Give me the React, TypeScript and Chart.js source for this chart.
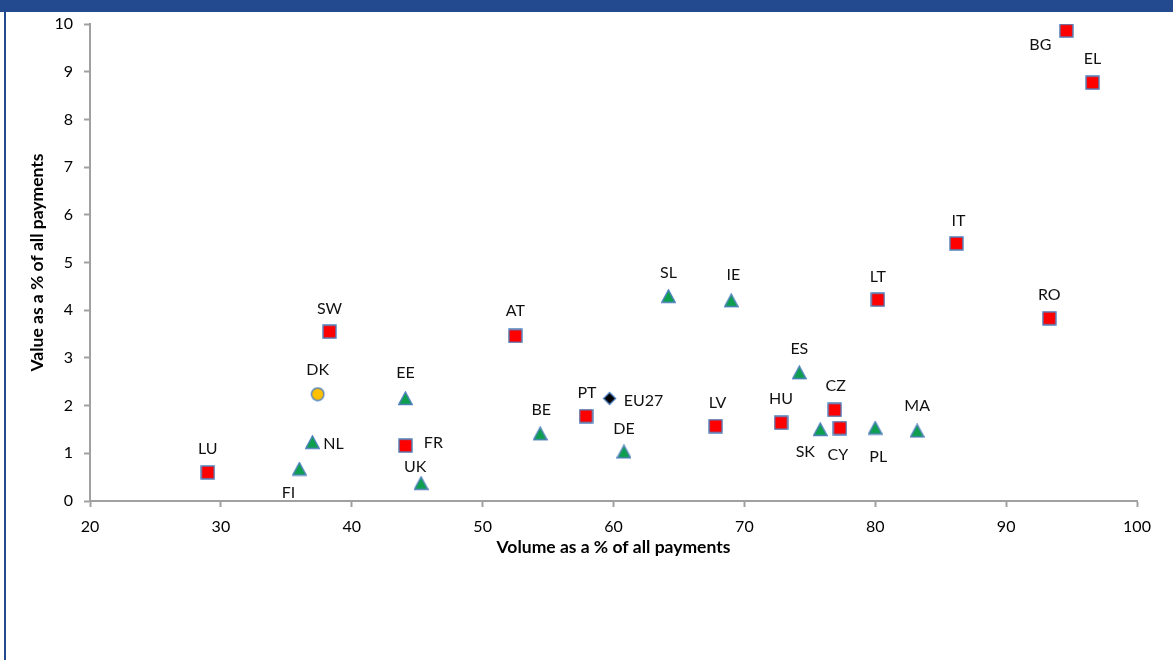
import { useEffect, useRef } from "react";
import { Chart, registerables } from "chart.js";

Chart.register(...registerables);

const W = 1173;
const H = 660;
const FONT = "Lato, 'Open Sans', sans-serif";

// Country codes and their payment shares
const countries = ["LU", "FI", "NL", "DK", "SW", "EE", "FR", "UK", "AT", "BE", "PT", "EU27", "DE", "SL", "IE", "LV", "ES", "HU", "CZ", "SK", "CY", "PL", "MA", "LT", "IT", "RO", "BG", "EL"];
const volumeShare = [29.0, 36.0, 37.0, 37.4, 38.3, 44.1, 44.1, 45.3, 52.5, 54.4, 57.9, 59.7, 60.8, 64.2, 69.0, 67.8, 74.2, 72.8, 76.9, 75.8, 77.3, 80.0, 83.2, 80.2, 86.2, 93.3, 94.6, 96.6];
const valueShare = [0.6, 0.67, 1.23, 2.24, 3.55, 2.15, 1.16, 0.37, 3.46, 1.41, 1.78, 2.15, 1.03, 4.29, 4.2, 1.57, 2.69, 1.64, 1.91, 1.5, 1.53, 1.53, 1.47, 4.22, 5.4, 3.83, 9.86, 8.77];

// Marker groups
const squareGroup = ["LU", "SW", "FR", "AT", "PT", "LV", "HU", "CZ", "CY", "LT", "IT", "RO", "BG", "EL"];
const triangleGroup = ["FI", "NL", "EE", "UK", "BE", "DE", "SL", "IE", "ES", "SK", "PL", "MA"];
const circleGroup = ["DK"];
const diamondGroup = ["EU27"];

// Axis settings
const xRange = [20, 100];
const yRange = [0, 10];
const xTitle = "Volume as a % of all payments";
const yTitle = "Value as a % of all payments";

// Label placement: offset of label centre from marker centre, in px
const labelOffsets: Record<string, [number, number]> = {
  LU: [0, -24], FI: [-11, 24], NL: [21, 2], DK: [0, -24], SW: [0, -23], EE: [0, -26],
  FR: [28, -3], UK: [-6, -17], AT: [0, -25], BE: [1, -24], PT: [1, -23], EU27: [34, 2],
  DE: [0, -23], SL: [0, -24], IE: [2, -26], LV: [2, -23], ES: [0, -24], HU: [0, -24],
  CZ: [1, -24], SK: [-15, 22], CY: [-2, 27], PL: [3, 29], MA: [0, -25], LT: [0, -23],
  IT: [2, -23], RO: [0, -23], BG: [-26, 14], EL: [0, -24],
};

const MARKER_EDGE = "#4F81BD";

function makeMarker(kind: string): HTMLCanvasElement {
  const c = document.createElement("canvas");
  const size = 15;
  c.width = size;
  c.height = size;
  const ctx = c.getContext("2d")!;
  ctx.lineWidth = 1.4;
  ctx.strokeStyle = MARKER_EDGE;
  ctx.beginPath();
  if (kind === "square") {
    ctx.rect(1, 1, 13, 13);
    ctx.fillStyle = "#FF0000";
  } else if (kind === "triangle") {
    ctx.moveTo(7.5, 1);
    ctx.lineTo(14.2, 13.5);
    ctx.lineTo(0.8, 13.5);
    ctx.closePath();
    ctx.fillStyle = "#0E9F4E";
  } else if (kind === "circle") {
    ctx.arc(7.5, 7.5, 6.2, 0, Math.PI * 2);
    ctx.fillStyle = "#FFC000";
  } else {
    ctx.moveTo(7.5, 1.5);
    ctx.lineTo(13.5, 7.5);
    ctx.lineTo(7.5, 13.5);
    ctx.lineTo(1.5, 7.5);
    ctx.closePath();
    ctx.fillStyle = "#000000";
  }
  ctx.fill();
  ctx.stroke();
  return c;
}

function pointsFor(group: string[]) {
  return group.map((code) => {
    const i = countries.indexOf(code);
    return { x: volumeShare[i], y: valueShare[i], code };
  });
}

const framePlugin = {
  id: "frame",
  beforeDraw(chart: any) {
    const ctx = chart.ctx;
    ctx.save();
    ctx.fillStyle = "#ffffff";
    ctx.fillRect(0, 0, W, H);
    ctx.fillStyle = "#234A8E";
    ctx.fillRect(0, 0, W, 12);
    ctx.fillRect(4, 0, 2, H);
    ctx.restore();
  },
  afterDraw(chart: any) {
    const ctx = chart.ctx;
    const area = chart.chartArea;
    ctx.save();
    ctx.fillStyle = "#000000";
    ctx.font = `bold 17.5px ${FONT}`;
    ctx.textAlign = "center";
    ctx.textBaseline = "middle";
    ctx.fillText(xTitle, (area.left + area.right) / 2, 547);
    ctx.translate(37, (area.top + area.bottom) / 2);
    ctx.rotate(-Math.PI / 2);
    ctx.fillText(yTitle, 0, 0);
    ctx.restore();
  },
};

const labelPlugin = {
  id: "pointLabels",
  afterDatasetsDraw(chart: any) {
    const ctx = chart.ctx;
    ctx.save();
    ctx.fillStyle = "#111111";
    ctx.font = `16px ${FONT}`;
    ctx.textAlign = "center";
    ctx.textBaseline = "middle";
    chart.data.datasets.forEach((ds: any, di: number) => {
      const meta = chart.getDatasetMeta(di);
      meta.data.forEach((el: any, pi: number) => {
        const code = ds.data[pi].code;
        const [dx, dy] = labelOffsets[code] || [0, -24];
        ctx.fillText(code, el.x + dx, el.y + dy);
      });
    });
    ctx.restore();
  },
};

export default function App() {
  const ref = useRef<HTMLCanvasElement | null>(null);

  useEffect(() => {
    if (!ref.current) return;
    const axisColor = "#A0A0A0";
    const tickFont = { family: FONT, size: 16 };
    const chart = new Chart(ref.current, {
      type: "scatter",
      data: {
        datasets: [
          { label: "square", data: pointsFor(squareGroup), pointStyle: makeMarker("square") as any },
          { label: "triangle", data: pointsFor(triangleGroup), pointStyle: makeMarker("triangle") as any },
          { label: "circle", data: pointsFor(circleGroup), pointStyle: makeMarker("circle") as any },
          { label: "diamond", data: pointsFor(diamondGroup), pointStyle: makeMarker("diamond") as any },
        ],
      },
      options: {
        responsive: false,
        animation: false,
        devicePixelRatio: 1,
        layout: { padding: { top: 24, right: 36, left: 0, bottom: 0 } },
        plugins: {
          legend: { display: false },
          tooltip: { enabled: false },
        },
        scales: {
          x: {
            type: "linear",
            min: xRange[0],
            max: xRange[1],
            ticks: { stepSize: 10, color: "#000", font: tickFont, padding: 10, maxRotation: 0 },
            grid: { drawOnChartArea: false, drawTicks: true, tickLength: 6, tickColor: axisColor, tickWidth: 2 },
            border: { color: axisColor, width: 2 },
            afterFit: (s: any) => {
              s.height = 159;
            },
          },
          y: {
            type: "linear",
            min: yRange[0],
            max: yRange[1],
            ticks: { stepSize: 1, color: "#000", font: tickFont, padding: 11 },
            grid: { drawOnChartArea: false, drawTicks: true, tickLength: 6, tickColor: axisColor, tickWidth: 2 },
            border: { color: axisColor, width: 2 },
            afterFit: (s: any) => {
              s.width = 90;
            },
          },
        },
      },
      plugins: [framePlugin, labelPlugin],
    });
    return () => chart.destroy();
  }, []);

  return (
    <div style={{ position: "absolute", left: 0, top: 0, width: W, height: H }}>
      <canvas ref={ref} width={W} height={H} style={{ width: W, height: H, display: "block" }} />
    </div>
  );
}
